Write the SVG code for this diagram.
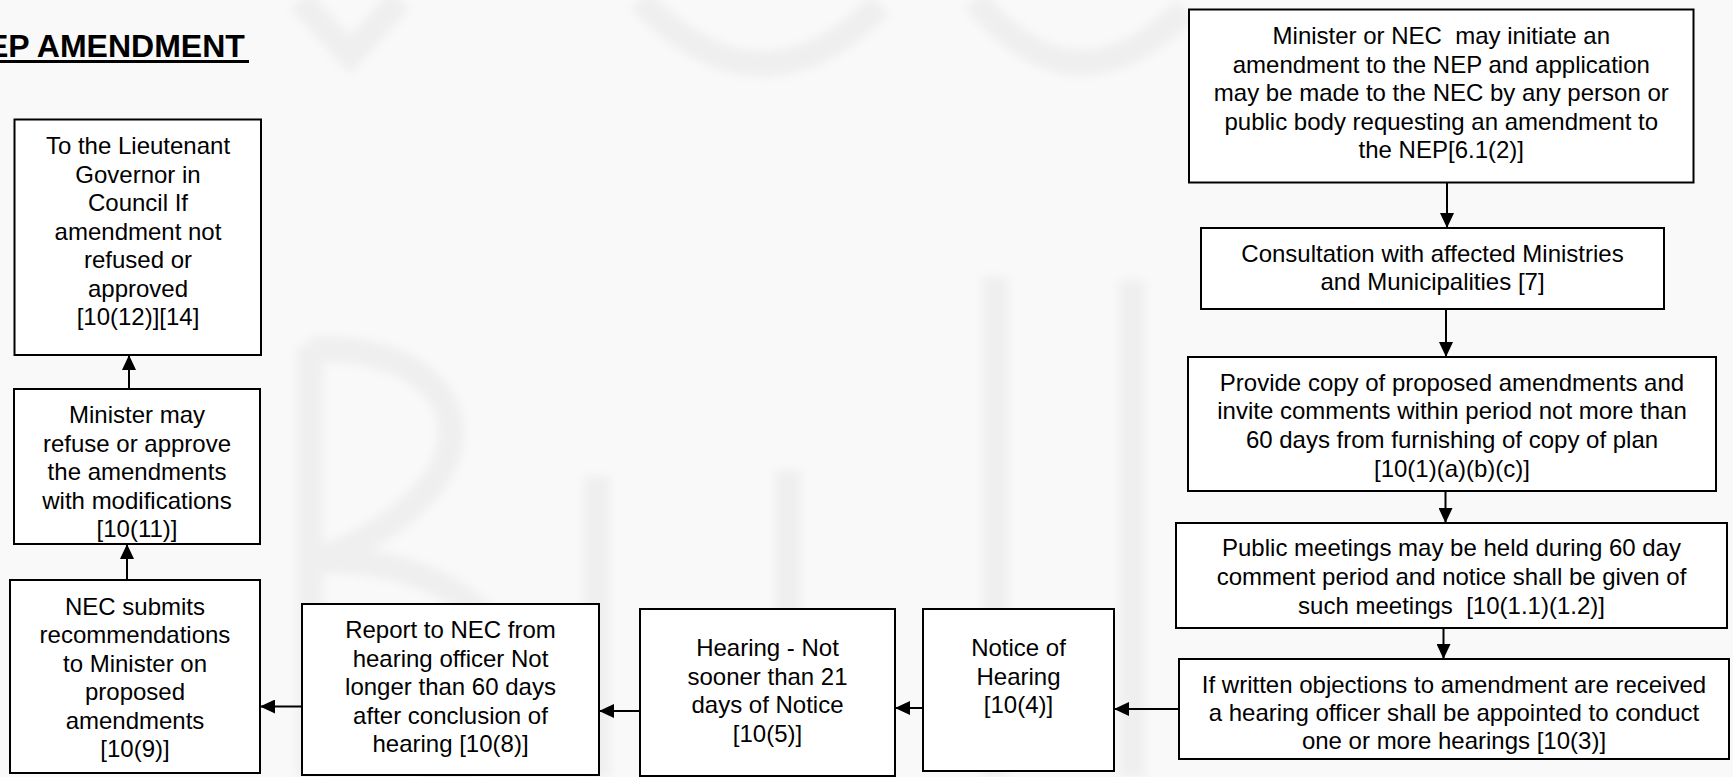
<svg xmlns="http://www.w3.org/2000/svg" width="1733" height="777" viewBox="0 0 1733 777">
  <style>
    .box { fill: #ffffff; stroke: #000000; stroke-width: 2; }
    .lbl { font-family: "Liberation Sans", Arial, sans-serif; font-size: 24px; fill: #000000; text-anchor: middle; white-space: pre; }
    .title { font-family: "Liberation Sans", Arial, sans-serif; font-size: 32px; font-weight: bold; fill: #000000; }
    .conn { stroke: #000000; stroke-width: 2; fill: none; marker-end: url(#arrow); }
    .mark { fill: none; stroke: #efefef; stroke-width: 26; stroke-linecap: butt; }
  </style>
  <defs>
    <marker id="arrow" markerUnits="userSpaceOnUse" markerWidth="16" markerHeight="14" refX="15" refY="7" orient="auto">
      <path d="M0,0 L15,7 L0,14 Z" fill="#000000"/>
    </marker>
    <filter id="soft" x="-10%" y="-10%" width="120%" height="120%">
      <feGaussianBlur stdDeviation="5"/>
    </filter>
  </defs>

  <!-- page background -->
  <rect x="0" y="0" width="1733" height="777" fill="#f8f9f8"/>

  <!-- faint letterhead watermark behind the chart -->
  <g id="watermark" filter="url(#soft)">
    <path class="mark" d="M300,0 L350,55 L400,0"/>
    <path class="mark" d="M640,0 Q760,125 880,5"/>
    <path class="mark" d="M975,0 Q1075,120 1185,10"/>
    <path class="mark" d="M310,345 L310,777"/>
    <path class="mark" d="M310,350 C470,340 520,480 320,560"/>
    <path class="mark" d="M320,560 C560,560 560,777 420,777"/>
    <path class="mark" d="M597,476 L597,777"/>
    <path class="mark" d="M788,470 L788,777"/>
    <path class="mark" d="M995,277 L995,777"/>
    <path class="mark" d="M1132,280 L1132,777"/>
  </g>

  <!-- heading -->
  <g id="heading">
    <text class="title" x="-13" y="56.5">EP AMENDMENT</text>
    <rect x="0" y="60" width="249" height="3" fill="#000000"/>
  </g>

  <!-- connectors -->
  <g id="connectors">
    <line class="conn" x1="1447" y1="183" x2="1447" y2="228"/>
    <line class="conn" x1="1446" y1="309" x2="1446" y2="357"/>
    <line class="conn" x1="1445.5" y1="491" x2="1445.5" y2="523"/>
    <line class="conn" x1="1443.5" y1="628" x2="1443.5" y2="659"/>
    <line class="conn" x1="1179" y1="709" x2="1114" y2="709"/>
    <line class="conn" x1="923" y1="708" x2="895" y2="708"/>
    <line class="conn" x1="640" y1="711" x2="599" y2="711"/>
    <line class="conn" x1="302" y1="706.5" x2="260" y2="706.5"/>
    <line class="conn" x1="127" y1="580" x2="127" y2="544"/>
    <line class="conn" x1="129" y1="389" x2="129" y2="355"/>
  </g>

  <!-- step: initiation -->
  <g id="initiate">
    <rect class="box" x="1189" y="9.5" width="504.5" height="173"/>
    <text class="lbl" x="1441.3" y="44.3">Minister or NEC  may initiate an</text>
    <text class="lbl" x="1441.3" y="72.7">amendment to the NEP and application</text>
    <text class="lbl" x="1441.3" y="101">may be made to the NEC by any person or</text>
    <text class="lbl" x="1441.3" y="129.5">public body requesting an amendment to</text>
    <text class="lbl" x="1441.3" y="158">the NEP[6.1(2)]</text>
  </g>

  <g id="consultation">
    <rect class="box" x="1201" y="228" width="463" height="81"/>
    <text class="lbl" x="1432.5" y="261.7">Consultation with affected Ministries</text>
    <text class="lbl" x="1432.5" y="290">and Municipalities [7]</text>
  </g>

  <g id="provide-copy">
    <rect class="box" x="1188" y="357" width="528" height="134"/>
    <text class="lbl" x="1452" y="390.5">Provide copy of proposed amendments and</text>
    <text class="lbl" x="1452" y="419.3">invite comments within period not more than</text>
    <text class="lbl" x="1452" y="448.3">60 days from furnishing of copy of plan</text>
    <text class="lbl" x="1452" y="477">[10(1)(a)(b)(c)]</text>
  </g>

  <g id="public-meetings">
    <rect class="box" x="1176" y="523" width="551" height="105"/>
    <text class="lbl" x="1451.5" y="556">Public meetings may be held during 60 day</text>
    <text class="lbl" x="1451.5" y="585">comment period and notice shall be given of</text>
    <text class="lbl" x="1451.5" y="613.5">such meetings  [10(1.1)(1.2)]</text>
  </g>

  <g id="objections">
    <rect class="box" x="1179" y="659" width="550" height="100"/>
    <text class="lbl" x="1454" y="693">If written objections to amendment are received</text>
    <text class="lbl" x="1454" y="721">a hearing officer shall be appointed to conduct</text>
    <text class="lbl" x="1454" y="749">one or more hearings [10(3)]</text>
  </g>

  <g id="notice">
    <rect class="box" x="923" y="609" width="191" height="162"/>
    <text class="lbl" x="1018.5" y="656">Notice of</text>
    <text class="lbl" x="1018.5" y="684.5">Hearing</text>
    <text class="lbl" x="1018.5" y="713">[10(4)]</text>
  </g>

  <g id="hearing">
    <rect class="box" x="640" y="609" width="255" height="167"/>
    <text class="lbl" x="767.5" y="656">Hearing - Not</text>
    <text class="lbl" x="767.5" y="684.5">sooner than 21</text>
    <text class="lbl" x="767.5" y="713">days of Notice</text>
    <text class="lbl" x="767.5" y="741.5">[10(5)]</text>
  </g>

  <g id="report">
    <rect class="box" x="302" y="604" width="297" height="171"/>
    <text class="lbl" x="450.5" y="638">Report to NEC from</text>
    <text class="lbl" x="450.5" y="666.5">hearing officer Not</text>
    <text class="lbl" x="450.5" y="695">longer than 60 days</text>
    <text class="lbl" x="450.5" y="723.5">after conclusion of</text>
    <text class="lbl" x="450.5" y="752">hearing [10(8)]</text>
  </g>

  <g id="recommendations">
    <rect class="box" x="10" y="580" width="250" height="193"/>
    <text class="lbl" x="135" y="614.5">NEC submits</text>
    <text class="lbl" x="135" y="643">recommendations</text>
    <text class="lbl" x="135" y="671.5">to Minister on</text>
    <text class="lbl" x="135" y="700">proposed</text>
    <text class="lbl" x="135" y="728.5">amendments</text>
    <text class="lbl" x="135" y="757">[10(9)]</text>
  </g>

  <g id="decision">
    <rect class="box" x="14" y="389" width="246" height="155"/>
    <text class="lbl" x="137" y="423">Minister may</text>
    <text class="lbl" x="137" y="451.5">refuse or approve</text>
    <text class="lbl" x="137" y="480">the amendments</text>
    <text class="lbl" x="137" y="508.5">with modifications</text>
    <text class="lbl" x="137" y="536.5">[10(11)]</text>
  </g>

  <g id="lieutenant-governor">
    <rect class="box" x="14.5" y="119.5" width="246.5" height="235.5"/>
    <text class="lbl" x="138" y="154">To the Lieutenant</text>
    <text class="lbl" x="138" y="182.5">Governor in</text>
    <text class="lbl" x="138" y="211">Council If</text>
    <text class="lbl" x="138" y="239.5">amendment not</text>
    <text class="lbl" x="138" y="268">refused or</text>
    <text class="lbl" x="138" y="296.5">approved</text>
    <text class="lbl" x="138" y="325">[10(12)][14]</text>
  </g>
</svg>
